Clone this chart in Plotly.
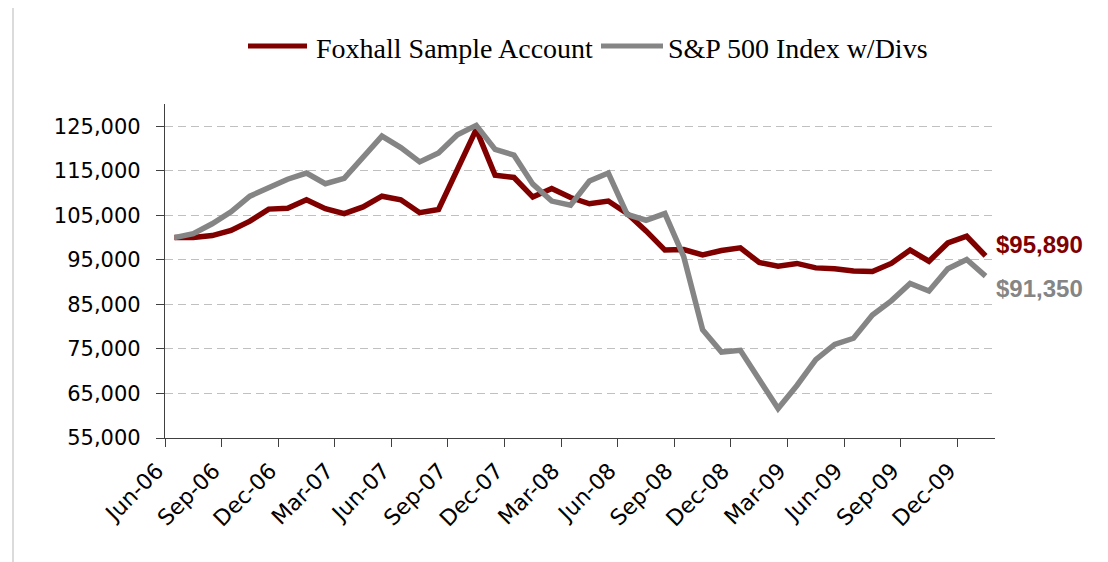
import plotly.graph_objects as go

# ---- data (monthly, Jun-06 .. Jan-10) ----
months = ["Jun-06", "Jul-06", "Aug-06", "Sep-06", "Oct-06", "Nov-06", "Dec-06",
          "Jan-07", "Feb-07", "Mar-07", "Apr-07", "May-07", "Jun-07", "Jul-07",
          "Aug-07", "Sep-07", "Oct-07", "Nov-07", "Dec-07", "Jan-08", "Feb-08",
          "Mar-08", "Apr-08", "May-08", "Jun-08", "Jul-08", "Aug-08", "Sep-08",
          "Oct-08", "Nov-08", "Dec-08", "Jan-09", "Feb-09", "Mar-09", "Apr-09",
          "May-09", "Jun-09", "Jul-09", "Aug-09", "Sep-09", "Oct-09", "Nov-09",
          "Dec-09", "Jan-10"]

foxhall = [100000, 100000, 100450, 101600, 103700, 106400, 106600, 108500, 106500,
           105400, 106900, 109300, 108500, 105600, 106300, 115000, 124300, 114000,
           113500, 109100, 111000, 109000, 107600, 108200, 105400, 101500, 97200,
           97300, 96100, 97100, 97700, 94400, 93600, 94200, 93200, 93000, 92500,
           92400, 94200, 97200, 94700, 98800, 100300, 95890]

sp500 = [100000, 100900, 103100, 105800, 109300, 111200, 113100, 114500, 112100,
         113300, 118100, 122800, 120200, 117000, 119000, 123100, 125200, 119800,
         118500, 112000, 108200, 107300, 112700, 114500, 105200, 103900, 105400,
         95700, 79300, 74300, 74700, 68300, 61600, 66800, 72600, 76000, 77400,
         82600, 85800, 89700, 88000, 93000, 95100, 91350]

series_names = ["Foxhall Sample Account", "S&P 500 Index w/Divs"]
end_labels = ["$95,890", "$91,350"]
y_ticks = [55000, 65000, 75000, 85000, 95000, 105000, 115000, 125000]

RED = "#800000"
GRAY = "#858585"
AXIS = "#404040"

idx = list(range(len(months)))
tick_pos = [i - 0.5 for i in range(0, len(months) - 1, 3)]
tick_txt = [months[i] for i in range(0, len(months) - 1, 3)]

fig = go.Figure()
fig.add_trace(go.Scatter(x=idx, y=foxhall, mode="lines", name=series_names[0],
                         line=dict(color=RED, width=5.5), showlegend=False))
fig.add_trace(go.Scatter(x=idx, y=sp500, mode="lines", name=series_names[1],
                         line=dict(color=GRAY, width=5.5), showlegend=False))

# end-of-line value labels
fig.add_annotation(x=idx[-1], y=foxhall[-1], text="<b>" + end_labels[0] + "</b>",
                   showarrow=False, xanchor="left", yanchor="middle", xshift=8, yshift=11,
                   font=dict(family="Liberation Sans, Arial", size=24, color=RED))
fig.add_annotation(x=idx[-1], y=sp500[-1], text="<b>" + end_labels[1] + "</b>",
                   showarrow=False, xanchor="left", yanchor="middle", xshift=8, yshift=-12,
                   font=dict(family="Liberation Sans, Arial", size=24, color=GRAY))

# pixel helpers for legend / frame (plot area in window px: x 165..995, y 104..438)
def px(v):
    return (v - 165) / 830.0

def py(v):
    return (438 - v) / 334.0

shapes = [
    dict(type="line", xref="paper", yref="paper", x0=px(248), x1=px(307),
         y0=py(46), y1=py(46), line=dict(color=RED, width=5)),
    dict(type="line", xref="paper", yref="paper", x0=px(601), x1=px(663),
         y0=py(46), y1=py(46), line=dict(color=GRAY, width=5)),
    dict(type="line", xref="paper", yref="paper", x0=px(13), x1=px(13),
         y0=py(8), y1=py(562), line=dict(color="#CFCFCF", width=1.5)),
    dict(type="line", xref="paper", yref="paper", x0=px(1102), x1=px(1102),
         y0=py(8), y1=py(562), line=dict(color="#CFCFCF", width=1.5)),
]
fig.add_annotation(xref="paper", yref="paper", x=px(314), y=py(48),
                   text=series_names[0], showarrow=False, xanchor="left", yanchor="middle",
                   font=dict(family="Liberation Serif, Times New Roman", size=28, color="black"))
fig.add_annotation(xref="paper", yref="paper", x=px(666), y=py(48),
                   text=series_names[1], showarrow=False, xanchor="left", yanchor="middle",
                   font=dict(family="Liberation Serif, Times New Roman", size=28, color="black"))

# page body has an 8px margin: figure 1100x554 placed at (8,8)
fig.update_layout(
    width=1100, height=554, autosize=False,
    margin=dict(l=157, r=113, t=96, b=124),
    paper_bgcolor="white", plot_bgcolor="white",
    shapes=shapes,
    showlegend=False,
    xaxis=dict(range=[-0.5, len(months) - 0.5], tickmode="array", tickvals=tick_pos,
               ticktext=tick_txt, tickangle=-45, ticks="outside", ticklen=8,
               tickcolor=AXIS, tickwidth=1.3, showline=True, linecolor=AXIS, linewidth=1.3,
               showgrid=False, zeroline=False, ticklabelshift=-8, ticklabelstandoff=2,
               tickfont=dict(family="DejaVu Sans", size=22, color="black")),
    yaxis=dict(range=[55000, 130000], tickmode="array", tickvals=y_ticks,
               tickformat=",d", ticks="outside", ticklen=8, tickcolor=AXIS, tickwidth=1.3,
               showline=True, linecolor=AXIS, linewidth=1.3,
               showgrid=True, gridcolor="#C0C0C0", gridwidth=1, griddash="8px,5px",
               zeroline=False, ticklabelstandoff=11,
               tickfont=dict(family="DejaVu Sans", size=21, color="black")),
)

fig.write_html("out.html")
